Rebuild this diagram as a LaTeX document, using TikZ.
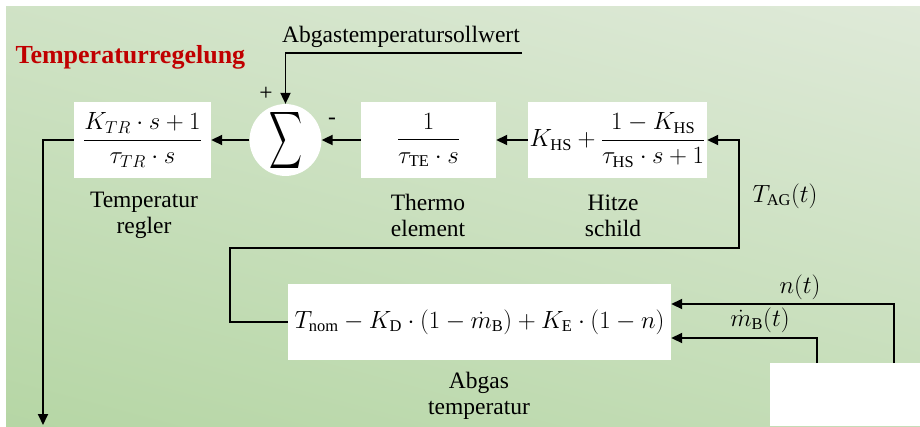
\documentclass[tikz,border=0pt]{standalone}
\usepackage{amsmath}
\usepackage{fontspec}
\setmainfont{Liberation Serif}
\usetikzlibrary{arrows.meta,calc}
\definecolor{bgdark}{HTML}{ADD29A}
\definecolor{bglight}{HTML}{E8EEE4}
\definecolor{titlered}{HTML}{C00000}
\tikzset{
  blk/.style={fill=white, draw=none, minimum height=76pt, inner sep=0pt},
  lbl/.style={align=center},
  sig/.style={inner sep=1pt},
  arr/.style={line width=1.8pt, -{Triangle[length=11pt,width=10pt]}},
}
\begin{document}
\begin{tikzpicture}[x=1pt,y=-1pt,font=\fontsize{23.5}{26}\selectfont]
\useasboundingbox (0,0) rectangle (920,426);
\fill[white] (0,0) rectangle (920,426);
\begin{scope}
  \clip (6,6) rectangle (920,426);
  \shade[bottom color=bgdark, top color=bglight, shading angle=-15] (3,-247) rectangle (923,673);
\end{scope}
\fill[white] (770,363) rectangle (920,426);

% title
\node[anchor=base west, text=titlered, font=\fontsize{26}{30}\selectfont\bfseries] (title) at (12,63) {Temperaturregelung};

% blocks
\node[blk, minimum width=137pt] (tr) at (142.5,140) {$\dfrac{K_{TR}\cdot s+1}{\tau_{TR}\cdot s}$};
\node[circle, fill=white, minimum size=68pt, inner sep=0pt] (sum) at (285.5,140) {\resizebox{33pt}{42pt}{$\displaystyle\sum$}};
\node[blk, minimum width=135pt] (te) at (428.5,140) {$\dfrac{1}{\tau_{\mathrm{TE}}\cdot s}$};
\node[blk, minimum width=179pt] (hs) at (617.5,140) {$K_{\mathrm{HS}}+\dfrac{1-K_{\mathrm{HS}}}{\tau_{\mathrm{HS}}\cdot s+1}$};
\node[blk, minimum width=383pt] (ab) at (479.5,322) {$T_{\mathrm{nom}}-K_{\mathrm{D}}\cdot(1-\dot m_{\mathrm{B}})+K_{\mathrm{E}}\cdot(1-n)$};

% block labels
\node[lbl] (trl) at (144,215.5) {Temperatur\\regler};
\node[lbl] (tel) at (428,215.5) {Thermo\\element};
\node[lbl] (hsl) at (613,215.5) {Hitze\\schild};
\node[lbl] (abl) at (479,395.5) {Abgas\\temperatur};

% setpoint
\node[anchor=base] (sp) at (401,42) {Abgastemperatursollwert};
\coordinate (spend) at (522,53);
\draw[arr] (spend) -| (sum.north);
\node[sig] (plus) at (266,94) {+};
\node[sig] (minus) at (332,121) {-};

% forward path
\draw[arr] (hs.west) -- (te.east);
\draw[arr] (te.west) -- (sum.east);
\draw[arr] (sum.west) -- (tr.east);
\coordinate (out) at (43,425);
\draw[arr] (tr.west) -| (out);

% feedback
\draw[arr] (ab.west) -- ++(-58,0) |- ($(hs.east)+(32,108)$) |- (hs.east);
\node[sig] (tag) at (785,196) {$T_{\mathrm{AG}}(t)$};

% inputs
\coordinate (nsrc) at (894,363);
\coordinate (msrc) at (817,363);
\draw[arr] (nsrc) |- ($(ab.east)+(0,-18)$);
\draw[arr] (msrc) |- ($(ab.east)+(0,16)$);
\node[sig] (nl) at (800,287) {$n(t)$};
\node[sig] (ml) at (760,320) {$\dot m_{\mathrm{B}}(t)$};
\end{tikzpicture}
\end{document}
